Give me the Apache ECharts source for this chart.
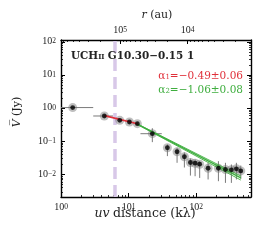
<!DOCTYPE html>
<html><head><meta charset="utf-8">
<script src="https://cdn.jsdelivr.net/npm/echarts@6/dist/echarts.min.js"></script>
<style>html,body{margin:0;padding:0;background:#fff}#c{width:265px;height:241px}</style>
</head><body><div id="c"></div>
<script>
// ---- data ----
const uv      = [1.49, 4.38, 7.41, 10.3, 13.5, 22.5, 37.6, 52.3, 67.1, 82.4, 96.7, 113, 150.6, 214, 272, 333, 395, 459];
const vis     = [1.05, 0.585, 0.433, 0.385, 0.344, 0.171, 0.0644, 0.0487, 0.0344, 0.0231, 0.0220, 0.0205, 0.0155, 0.0155, 0.0142, 0.0139, 0.0149, 0.0129];
const uvLo    = [1.0, 3.0, 7.41, 10.3, 13.5, 15.0, 37.6, 52.3, 67.1, 82.4, 96.7, 113, 150.6, 214, 272, 333, 395, 459];
const uvHi    = [3.0, 5.9, 7.41, 10.3, 13.5, 31.0, 37.6, 52.3, 67.1, 82.4, 96.7, 113, 150.6, 214, 272, 333, 395, 459];
const visLo   = [1.0, 0.53, 0.40, 0.35, 0.31, 0.095, 0.036, 0.0226, 0.0163, 0.0093, 0.0089, 0.0079, 0.0071, 0.0063, 0.0056, 0.0056, 0.0071, 0.0074];
const visHi   = [1.1, 0.64, 0.47, 0.42, 0.38, 0.25, 0.081, 0.0644, 0.0464, 0.0305, 0.0285, 0.0253, 0.0226, 0.0253, 0.0226, 0.0201, 0.0226, 0.0187];
const redFit  = [[4.4, 0.60], [13.5, 0.34]];
const greenFitUpper  = [[13.0, 0.352], [460, 0.0090]];
const greenFitCenter = [[13.0, 0.345], [460, 0.0079]];
const greenFitLower  = [[13.0, 0.338], [460, 0.0068]];
const cutUV = 6.3;
const xTicks = [1, 10, 100];
const xMinor = [2,3,4,5,6,7,8,9,20,30,40,50,60,70,80,90,200,300,400,500,600];
const rTicks = [1e4, 1e5];
const rMinor = [2e3,3e3,4e3,5e3,6e3,7e3,8e3,9e3,2e4,3e4,4e4,5e4,6e4,7e4,8e4,9e4,2e5,3e5,4e5,5e5,6e5,7e5];
const yTicks = [0.01, 0.1, 1, 10, 100];
const yMinor = [0.003,0.004,0.005,0.006,0.007,0.008,0.009,0.02,0.03,0.04,0.05,0.06,0.07,0.08,0.09,0.2,0.3,0.4,0.5,0.6,0.7,0.8,0.9,2,3,4,5,6,7,8,9,20,30,40,50,60,70,80,90];
const X_MIN = 1, X_MAX = 650, Y_MIN = 0.0021, Y_MAX = 115, R_K = 7.5e5;

const FONT = 'Liberation Serif';
const WFONT = 'DejaVu Serif';
function powLabel(v){
  const e = Math.round(Math.log10(v));
  return '{b|10}{s|' + String(e).replace('-', '\u2212') + '}';
}
const richPow = {
  b: {fontFamily: FONT, fontSize: 10, lineHeight: 9, verticalAlign: 'bottom', color: '#222'},
  s: {fontFamily: FONT, fontSize: 7.5, lineHeight: 7, padding: [0,0,5,0], verticalAlign: 'top', color: '#222'}
};
const axisLine = {show: true, lineStyle: {color: '#000', width: 1.4}};
function majorAxis(base, ticks, showLabel, extra){
  return Object.assign({
    type: 'log', logBase: 10, gridIndex: 0,
    axisLine: axisLine,
    axisTick: {show: true, inside: true, length: 4, customValues: ticks, lineStyle: {color: '#000', width: 1}},
    axisLabel: showLabel ? {show: true, customValues: ticks, formatter: powLabel, rich: richPow, margin: 5} : {show: false},
    splitLine: {show: false}, minorTick: {show: false}
  }, base, extra || {});
}
function minorAxis(base, ticks){
  return Object.assign({
    type: 'log', logBase: 10, gridIndex: 0,
    axisLine: {show: false},
    axisTick: {show: true, inside: true, length: 2, customValues: ticks, lineStyle: {color: '#000', width: 0.8}},
    axisLabel: {show: false}, splitLine: {show: false}
  }, base);
}
const xb = {min: X_MIN, max: X_MAX, position: 'bottom'};
const xt = {min: R_K / X_MAX, max: R_K / X_MIN, position: 'top', inverse: true};
const yl = {min: Y_MIN, max: Y_MAX, position: 'left'};
const yr = {min: Y_MIN, max: Y_MAX, position: 'right'};

const pts = uv.map((u, i) => [u, vis[i]]);
const errs = uv.map((u, i) => [u, vis[i], uvLo[i], uvHi[i], visLo[i], visHi[i]]);

const chart = echarts.init(document.getElementById('c'), null, {renderer: 'canvas'});
chart.setOption({
  animation: false,
  grid: {left: 61, right: 14, top: 40, bottom: 44, containLabel: false, outerBoundsMode: 'none'},
  xAxis: [
    majorAxis(xb, xTicks, true, {axisLabel: {show: true, customValues: xTicks, formatter: powLabel, rich: richPow, margin: 6}}),
    minorAxis(xb, xMinor),
    majorAxis(xt, rTicks, true, {axisLabel: {show: true, customValues: rTicks, formatter: powLabel, rich: richPow, margin: 5}}),
    minorAxis(xt, rMinor)
  ],
  yAxis: [
    majorAxis(yl, yTicks, true),
    minorAxis(yl, yMinor),
    majorAxis(yr, yTicks, false),
    minorAxis(yr, yMinor)
  ],
  series: [
    {type: 'line', data: [[cutUV, Y_MIN], [cutUV, Y_MAX]], showSymbol: false, silent: true, z: 1,
     lineStyle: {color: '#d8c8e8', width: 3.5, type: [12, 6]}},
    {type: 'custom', z: 2, data: errs, encode: {x: 0, y: 1},
     renderItem: function(params, api){
       const x = api.value(0), y = api.value(1);
       const p = api.coord([x, y]);
       const a = api.coord([api.value(2), y]), b = api.coord([api.value(3), y]);
       const c = api.coord([x, api.value(4)]), d = api.coord([x, api.value(5)]);
       const st = {stroke: '#7a7a7a', lineWidth: 1};
       return {type: 'group', children: [
         {type: 'line', shape: {x1: a[0], y1: p[1], x2: b[0], y2: p[1]}, style: st},
         {type: 'line', shape: {x1: p[0], y1: c[1], x2: p[0], y2: d[1]}, style: st}
       ]};
     }},
    {type: 'scatter', z: 3, data: pts, symbolSize: 9, itemStyle: {color: 'rgba(110,110,110,0.55)'}},
    {type: 'line', z: 4, data: greenFitUpper, showSymbol: false, lineStyle: {color: '#3fae3f', width: 0.9}},
    {type: 'line', z: 4, data: greenFitLower, showSymbol: false, lineStyle: {color: '#3fae3f', width: 0.9}},
    {type: 'line', z: 4, data: greenFitCenter, showSymbol: false, lineStyle: {color: '#3fae3f', width: 1.4}},
    {type: 'line', z: 4, data: redFit, showSymbol: false, lineStyle: {color: '#e0303a', width: 1.6}},
    {type: 'scatter', z: 5, data: pts, symbolSize: 4.8, itemStyle: {color: '#000'}}
  ],
  graphic: [
    {type: 'text', left: 71, top: 49, z: 10, style: {
      text: '{b|UCH}{s|II} {b|G10.30\u22120.15 1}',
      rich: {
        b: {fontFamily: WFONT, fontWeight: 'bold', fontSize: 10.4, fill: '#222', verticalAlign: 'bottom', lineHeight: 11},
        s: {fontFamily: WFONT, fontWeight: 'bold', fontSize: 6.8, fill: '#222', verticalAlign: 'bottom', lineHeight: 8}
      }}},
    {type: 'text', right: 22, top: 70, z: 10, style: {
      text: '{a|\u03b1}{s|1}{a|=\u22120.49\u00b10.06}',
      rich: {
        a: {fontFamily: WFONT, fontSize: 10.5, fill: '#e0303a', verticalAlign: 'top', lineHeight: 10},
        s: {fontFamily: WFONT, fontSize: 7, fill: '#e0303a', verticalAlign: 'bottom', lineHeight: 7, padding: [4,0,0,0]}
      }}},
    {type: 'text', right: 22, top: 84, z: 10, style: {
      text: '{a|\u03b1}{s|2}{a|=\u22121.06\u00b10.08}',
      rich: {
        a: {fontFamily: WFONT, fontSize: 10.5, fill: '#3fae3f', verticalAlign: 'top', lineHeight: 10},
        s: {fontFamily: WFONT, fontSize: 7, fill: '#3fae3f', verticalAlign: 'bottom', lineHeight: 7, padding: [4,0,0,0]}
      }}},
    {type: 'text', x: 145, y: 214, z: 10, style: {
      text: '{i|uv} {n|distance (k\u03bb)}', align: 'center', verticalAlign: 'middle',
      rich: {
        i: {fontFamily: WFONT, fontStyle: 'italic', fontSize: 12.5, fill: '#222'},
        n: {fontFamily: WFONT, fontSize: 12.5, fill: '#222'}
      }}},
    {type: 'text', x: 157, y: 15, z: 10, style: {
      text: '{i|r} {n|(au)}', align: 'center', verticalAlign: 'middle',
      rich: {
        i: {fontFamily: WFONT, fontStyle: 'italic', fontSize: 11, fill: '#222'},
        n: {fontFamily: WFONT, fontSize: 11, fill: '#222'}
      }}},
    {type: 'text', x: 17, y: 112, rotation: Math.PI / 2, z: 10, style: {
      text: '{i|V\u0305} {n|(Jy)}', align: 'center', verticalAlign: 'middle',
      rich: {
        i: {fontFamily: WFONT, fontStyle: 'italic', fontSize: 11, fill: '#222'},
        n: {fontFamily: WFONT, fontSize: 11, fill: '#222'}
      }}}
  ]
});
</script></body></html>
